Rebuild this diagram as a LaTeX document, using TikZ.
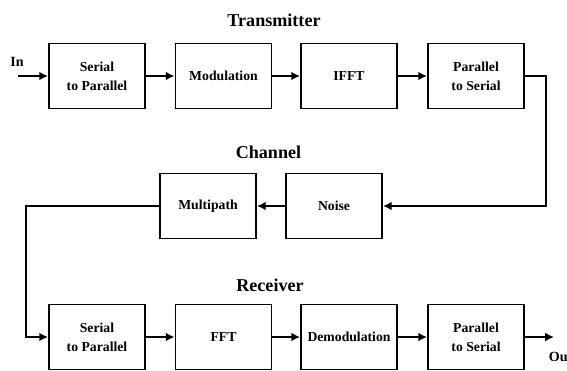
\documentclass[tikz,border=0pt]{standalone}
\usepackage{fontspec}
\setmainfont{Liberation Serif}
\usetikzlibrary{arrows.meta}

\begin{document}
\begin{tikzpicture}[x=0.02cm,y=-0.02cm,line width=1.1pt,
    >={Latex[length=5pt,width=5pt]}]
    \useasboundingbox (0,0) rectangle (567,370);
    \newcommand\stage[4]{
      \node[draw,minimum width=1.92cm,minimum height=1.3cm,inner
      sep=0pt,align=center,font=\bfseries\fontsize{7.8}{11}\selectfont]
      at (#1,#2) (#3) {#4};
    }
    \newcommand\heading[3]{
      \node[font=\bfseries\fontsize{10.3}{12}\selectfont] at (#1,#2) {#3};
    }
    % transmitter
    \heading{274}{20}{Transmitter}
    \stage{97}{76}{sp1}{Serial\\to Parallel};%
    \stage{223.5}{76}{mod}{Modulation};
    \stage{349}{76}{ifft}{IFFT};
    \stage{476}{76}{ps1}{Parallel\\to Serial};
    % channel
    \heading{268.5}{152}{Channel}
    \stage{208}{206}{mpath}{Multipath};
    \stage{334}{206}{noise}{Noise};
    % receiver
    \heading{270}{285}{Receiver}
    \stage{97}{337}{sp2}{Serial\\to Parallel};
    \stage{223.5}{337}{fft}{FFT};
    \stage{349}{337}{demod}{Demodulation};
    \stage{476}{337}{ps2}{Parallel\\to Serial};
    \coordinate (in) at (18,76);
    \node[font=\bfseries\fontsize{8}{9}\selectfont] at (17,62) (inlabel) {In};
    \coordinate (out) at (554,337);
    \node[font=\bfseries\fontsize{8}{9}\selectfont,anchor=west,inner sep=0pt]
      at (548,357) (outlabel) {Ou};
    \coordinate (rturn) at (546,206);
    \coordinate (lturn) at (26,206);
    \path[->] (in) edge (sp1) (sp1) edge (mod) (mod) edge (ifft)
    (ifft) edge (ps1) (noise) edge (mpath)
    (sp2) edge (fft) (fft) edge (demod) (demod) edge (ps2)
    (ps2) edge (out);
    \draw[->] (ps1.east) -| (rturn) -- (noise.east);
    \draw[->] (mpath.west) -- (lturn) |- (sp2.west);
  \end{tikzpicture}
\end{document}
